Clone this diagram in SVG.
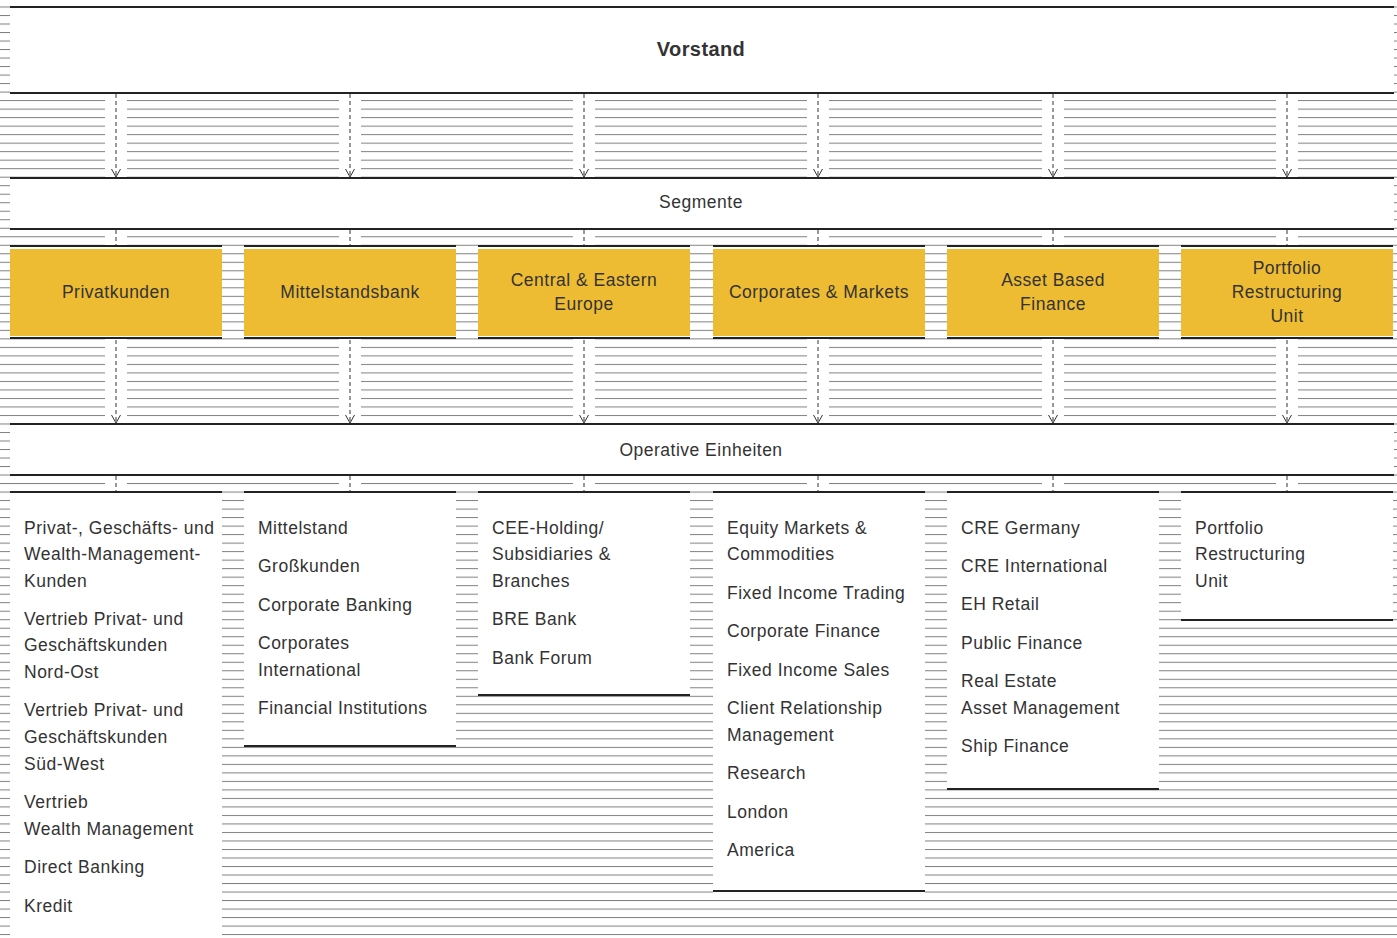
<svg xmlns="http://www.w3.org/2000/svg" width="1397" height="938" viewBox="0 0 1397 938">
<defs>
<pattern id="hatch" patternUnits="userSpaceOnUse" x="0" y="15" width="20" height="8.51">
<rect x="0" y="0" width="20" height="1" fill="#808080"/>
</pattern>
<marker id="v" markerUnits="userSpaceOnUse" markerWidth="20" markerHeight="20" refX="0" refY="0" orient="auto" overflow="visible">
<path d="M-8,-4.5 L0,0 L-8,4.5" fill="none" stroke="#333" stroke-width="1"/>
</marker>
<style>
.t{font-family:"Liberation Sans",Arial,sans-serif;font-size:17.5px;fill:#333;letter-spacing:0.5px}
.c{text-anchor:middle}
.b{font-weight:bold;font-size:20px;letter-spacing:0.4px}
.rule{fill:#222}
.yel{fill:#EEBC33}
.box{fill:#fff}
.dash{stroke:#333;stroke-width:1;stroke-dasharray:4 3;fill:none}
</style>
</defs>
<rect width="1397" height="938" fill="#fff"/>
<rect width="1397" height="938" fill="url(#hatch)"/>
<g id="gaps" fill="#fff">
<rect x="105" y="93" width="22" height="400"/>
<rect x="339" y="93" width="22" height="400"/>
<rect x="573" y="93" width="22" height="400"/>
<rect x="807" y="93" width="22" height="400"/>
<rect x="1042" y="93" width="22" height="400"/>
<rect x="1276" y="93" width="22" height="400"/>
</g>
<g id="connectors">
<line class="dash" x1="116" y1="94" x2="116" y2="177" marker-end="url(#v)"/>
<line class="dash" x1="350" y1="94" x2="350" y2="177" marker-end="url(#v)"/>
<line class="dash" x1="584" y1="94" x2="584" y2="177" marker-end="url(#v)"/>
<line class="dash" x1="818" y1="94" x2="818" y2="177" marker-end="url(#v)"/>
<line class="dash" x1="1053" y1="94" x2="1053" y2="177" marker-end="url(#v)"/>
<line class="dash" x1="1287" y1="94" x2="1287" y2="177" marker-end="url(#v)"/>
<line class="dash" x1="116" y1="230" x2="116" y2="245"/>
<line class="dash" x1="350" y1="230" x2="350" y2="245"/>
<line class="dash" x1="584" y1="230" x2="584" y2="245"/>
<line class="dash" x1="818" y1="230" x2="818" y2="245"/>
<line class="dash" x1="1053" y1="230" x2="1053" y2="245"/>
<line class="dash" x1="1287" y1="230" x2="1287" y2="245"/>
<line class="dash" x1="116" y1="340" x2="116" y2="423" marker-end="url(#v)"/>
<line class="dash" x1="350" y1="340" x2="350" y2="423" marker-end="url(#v)"/>
<line class="dash" x1="584" y1="340" x2="584" y2="423" marker-end="url(#v)"/>
<line class="dash" x1="818" y1="340" x2="818" y2="423" marker-end="url(#v)"/>
<line class="dash" x1="1053" y1="340" x2="1053" y2="423" marker-end="url(#v)"/>
<line class="dash" x1="1287" y1="340" x2="1287" y2="423" marker-end="url(#v)"/>
<line class="dash" x1="116" y1="476" x2="116" y2="491"/>
<line class="dash" x1="350" y1="476" x2="350" y2="491"/>
<line class="dash" x1="584" y1="476" x2="584" y2="491"/>
<line class="dash" x1="818" y1="476" x2="818" y2="491"/>
<line class="dash" x1="1053" y1="476" x2="1053" y2="491"/>
<line class="dash" x1="1287" y1="476" x2="1287" y2="491"/>
</g>
<g id="vorstand">
<rect class="box" x="10" y="6" width="1384" height="88"/>
<rect class="rule" x="10" y="6" width="1384" height="2"/>
<rect class="rule" x="10" y="92" width="1384" height="2"/>
<text class="t c b" x="701" y="56">Vorstand</text>
</g>
<g id="segmente">
<rect class="box" x="10" y="177" width="1384" height="53"/>
<rect class="rule" x="10" y="177" width="1384" height="2"/>
<rect class="rule" x="10" y="228" width="1384" height="2"/>
<text class="t c" x="701" y="208">Segmente</text>
</g>
<g id="seg-privatkunden">
<rect class="box" x="10" y="245" width="212" height="94"/>
<rect class="yel" x="10" y="249" width="212" height="87"/>
<rect class="rule" x="10" y="245" width="212" height="2"/>
<rect class="rule" x="10" y="337" width="212" height="2"/>
<text class="t c" x="116" y="298">Privatkunden</text>
</g>
<g id="seg-mittelstandsbank">
<rect class="box" x="244" y="245" width="212" height="94"/>
<rect class="yel" x="244" y="249" width="212" height="87"/>
<rect class="rule" x="244" y="245" width="212" height="2"/>
<rect class="rule" x="244" y="337" width="212" height="2"/>
<text class="t c" x="350" y="298">Mittelstandsbank</text>
</g>
<g id="seg-cee">
<rect class="box" x="478" y="245" width="212" height="94"/>
<rect class="yel" x="478" y="249" width="212" height="87"/>
<rect class="rule" x="478" y="245" width="212" height="2"/>
<rect class="rule" x="478" y="337" width="212" height="2"/>
<text class="t c" x="584" y="286">Central &amp; Eastern</text>
<text class="t c" x="584" y="310">Europe</text>
</g>
<g id="seg-cm">
<rect class="box" x="713" y="245" width="212" height="94"/>
<rect class="yel" x="713" y="249" width="212" height="87"/>
<rect class="rule" x="713" y="245" width="212" height="2"/>
<rect class="rule" x="713" y="337" width="212" height="2"/>
<text class="t c" x="819" y="298">Corporates &amp; Markets</text>
</g>
<g id="seg-abf">
<rect class="box" x="947" y="245" width="212" height="94"/>
<rect class="yel" x="947" y="249" width="212" height="87"/>
<rect class="rule" x="947" y="245" width="212" height="2"/>
<rect class="rule" x="947" y="337" width="212" height="2"/>
<text class="t c" x="1053" y="286">Asset Based</text>
<text class="t c" x="1053" y="310">Finance</text>
</g>
<g id="seg-pru">
<rect class="box" x="1181" y="245" width="212" height="94"/>
<rect class="yel" x="1181" y="249" width="212" height="87"/>
<rect class="rule" x="1181" y="245" width="212" height="2"/>
<rect class="rule" x="1181" y="337" width="212" height="2"/>
<text class="t c" x="1287" y="274">Portfolio</text>
<text class="t c" x="1287" y="298">Restructuring</text>
<text class="t c" x="1287" y="322">Unit</text>
</g>
<g id="operative">
<rect class="box" x="10" y="423" width="1384" height="53"/>
<rect class="rule" x="10" y="423" width="1384" height="2"/>
<rect class="rule" x="10" y="474" width="1384" height="2"/>
<text class="t c" x="701" y="456">Operative Einheiten</text>
</g>
<g id="op-privatkunden">
<rect class="box" x="10" y="491" width="212" height="447"/>
<rect class="rule" x="10" y="491" width="212" height="2"/>
<text class="t" x="24" y="534">Privat-, Geschäfts- und</text>
<text class="t" x="24" y="560">Wealth-Management-</text>
<text class="t" x="24" y="587">Kunden</text>
<text class="t" x="24" y="625">Vertrieb Privat- und</text>
<text class="t" x="24" y="651">Geschäftskunden</text>
<text class="t" x="24" y="678">Nord-Ost</text>
<text class="t" x="24" y="716">Vertrieb Privat- und</text>
<text class="t" x="24" y="743">Geschäftskunden</text>
<text class="t" x="24" y="770">Süd-West</text>
<text class="t" x="24" y="808">Vertrieb</text>
<text class="t" x="24" y="835">Wealth Management</text>
<text class="t" x="24" y="873">Direct Banking</text>
<text class="t" x="24" y="912">Kredit</text>
</g>
<g id="op-mittelstandsbank">
<rect class="box" x="244" y="491" width="212" height="256"/>
<rect class="rule" x="244" y="491" width="212" height="2"/>
<rect class="rule" x="244" y="745" width="212" height="2"/>
<text class="t" x="258" y="534">Mittelstand</text>
<text class="t" x="258" y="572">Großkunden</text>
<text class="t" x="258" y="611">Corporate Banking</text>
<text class="t" x="258" y="649">Corporates</text>
<text class="t" x="258" y="676">International</text>
<text class="t" x="258" y="714">Financial Institutions</text>
</g>
<g id="op-cee">
<rect class="box" x="478" y="491" width="212" height="205"/>
<rect class="rule" x="478" y="491" width="212" height="2"/>
<rect class="rule" x="478" y="694" width="212" height="2"/>
<text class="t" x="492" y="534">CEE-Holding/</text>
<text class="t" x="492" y="560">Subsidiaries &amp;</text>
<text class="t" x="492" y="587">Branches</text>
<text class="t" x="492" y="625">BRE Bank</text>
<text class="t" x="492" y="664">Bank Forum</text>
</g>
<g id="op-cm">
<rect class="box" x="713" y="491" width="212" height="402"/>
<rect class="rule" x="713" y="491" width="212" height="2"/>
<rect class="rule" x="713" y="890" width="212" height="2"/>
<text class="t" x="727" y="534">Equity Markets &amp;</text>
<text class="t" x="727" y="560">Commodities</text>
<text class="t" x="727" y="599">Fixed Income Trading</text>
<text class="t" x="727" y="637">Corporate Finance</text>
<text class="t" x="727" y="676">Fixed Income Sales</text>
<text class="t" x="727" y="714">Client Relationship</text>
<text class="t" x="727" y="741">Management</text>
<text class="t" x="727" y="779">Research</text>
<text class="t" x="727" y="818">London</text>
<text class="t" x="727" y="856">America</text>
</g>
<g id="op-abf">
<rect class="box" x="947" y="491" width="212" height="299"/>
<rect class="rule" x="947" y="491" width="212" height="2"/>
<rect class="rule" x="947" y="788" width="212" height="2"/>
<text class="t" x="961" y="534">CRE Germany</text>
<text class="t" x="961" y="572">CRE International</text>
<text class="t" x="961" y="610">EH Retail</text>
<text class="t" x="961" y="649">Public Finance</text>
<text class="t" x="961" y="687">Real Estate</text>
<text class="t" x="961" y="714">Asset Management</text>
<text class="t" x="961" y="752">Ship Finance</text>
</g>
<g id="op-pru">
<rect class="box" x="1181" y="491" width="212" height="130"/>
<rect class="rule" x="1181" y="491" width="212" height="2"/>
<rect class="rule" x="1181" y="619" width="212" height="2"/>
<text class="t" x="1195" y="534">Portfolio</text>
<text class="t" x="1195" y="560">Restructuring</text>
<text class="t" x="1195" y="587">Unit</text>
</g>
</svg>
